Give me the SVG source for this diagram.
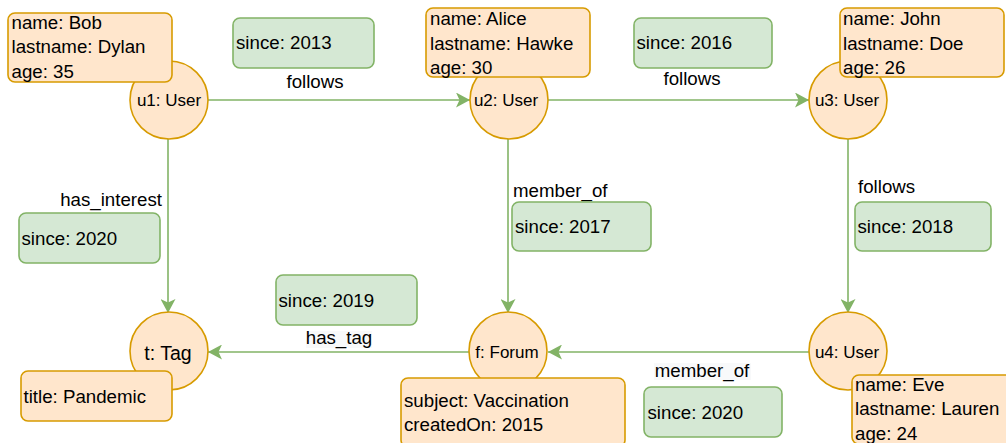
<svg xmlns="http://www.w3.org/2000/svg" width="1006" height="443" viewBox="0 0 1006 443">
  <style>
    text { font-family: "Liberation Sans", Arial, Helvetica, sans-serif; fill: #000; }
    .n { fill: #ffe6cc; stroke: #d79b00; stroke-width: 1.6; }
    .g { fill: #d5e8d4; stroke: #82b366; stroke-width: 1.6; }
    .e { fill: none; stroke: #82b366; stroke-width: 1.6; marker-end: url(#arr); }
    .p { font-size: 18.7px; }
    .el { font-size: 18.7px; }
    .c { text-anchor: middle; }
    .lab { font-size: 17px; text-anchor: middle; }
    .lbg { fill: #f8f9fa; stroke: none; }
  </style>
  <defs>
    <marker id="arr" viewBox="0 0 14 15" refX="14" refY="7.5" markerWidth="14" markerHeight="15" markerUnits="userSpaceOnUse" orient="auto">
      <path d="M0,0 L14,7.5 L0,15 L3.5,7.5 Z" fill="#82b366"/>
    </marker>
  </defs>

  <rect width="1006" height="443" fill="#ffffff"/>

  <g id="connectors">
    <g id="e-u1-u2">
      <line class="e" x1="208" y1="100" x2="470" y2="100"/>
      <text class="el c" x="315" y="88">follows</text>
    </g>
    <g id="e-u2-u3">
      <line class="e" x1="548" y1="100" x2="809" y2="100"/>
      <text class="el c" x="692" y="85">follows</text>
    </g>
    <g id="e-u1-t">
      <line class="e" x1="168" y1="139" x2="168" y2="313"/>
      <text class="el" x="162" y="206" text-anchor="end">has_interest</text>
    </g>
    <g id="e-u2-f">
      <line class="e" x1="508" y1="139" x2="508" y2="313"/>
      <text class="el" x="513" y="197">member_of</text>
    </g>
    <g id="e-u3-u4">
      <line class="e" x1="848" y1="139" x2="848" y2="313"/>
      <text class="el" x="858" y="193">follows</text>
    </g>
    <g id="e-f-t">
      <line class="e" x1="469" y1="352" x2="208" y2="352"/>
      <rect class="lbg" x="306" y="331" width="66" height="17"/>
      <text class="el c" x="339" y="344">has_tag</text>
    </g>
    <g id="e-u4-f">
      <line class="e" x1="809" y1="352" x2="548" y2="352"/>
      <rect class="lbg" x="654" y="363" width="97" height="17"/>
      <text class="el c" x="702" y="377">member_of</text>
    </g>
  </g>

  <g id="rel-props">
    <g id="since-2013">
      <rect class="g" x="233" y="18" width="141" height="50" rx="7"/>
      <text class="p" x="236" y="49">since: 2013</text>
    </g>
    <g id="since-2016">
      <rect class="g" x="634" y="18" width="138" height="50" rx="7"/>
      <text class="p" x="636.5" y="49">since: 2016</text>
    </g>
    <g id="since-2020-a">
      <rect class="g" x="19" y="213" width="141" height="50" rx="7"/>
      <text class="p" x="21.5" y="245">since: 2020</text>
    </g>
    <g id="since-2017">
      <rect class="g" x="512" y="202" width="139" height="49" rx="7"/>
      <text class="p" x="515" y="233">since: 2017</text>
    </g>
    <g id="since-2018">
      <rect class="g" x="855" y="202" width="136" height="49" rx="7"/>
      <text class="p" x="857.5" y="233">since: 2018</text>
    </g>
    <g id="since-2019">
      <rect class="g" x="276" y="275" width="141" height="50" rx="7"/>
      <text class="p" x="278.5" y="306.5">since: 2019</text>
    </g>
    <g id="since-2020-b">
      <rect class="g" x="644" y="387" width="138" height="50" rx="7"/>
      <text class="p" x="647.5" y="418.5">since: 2020</text>
    </g>
  </g>

  <g id="u1">
    <circle class="n" cx="169" cy="100" r="39"/>
    <text class="lab" x="169" y="106">u1: User</text>
    <rect class="n" x="8" y="13" width="164" height="69" rx="7"/>
    <text class="p" x="11.5" y="28.5">name: Bob</text>
    <text class="p" x="11.5" y="53">lastname: Dylan</text>
    <text class="p" x="11.5" y="77.5">age: 35</text>
  </g>

  <g id="u2">
    <circle class="n" cx="509" cy="100" r="39"/>
    <text class="lab" x="506" y="106">u2: User</text>
    <rect class="n" x="426" y="8" width="164" height="69" rx="7"/>
    <text class="p" x="430" y="25">name: Alice</text>
    <text class="p" x="430" y="49.5">lastname: Hawke</text>
    <text class="p" x="430" y="74">age: 30</text>
  </g>

  <g id="u3">
    <circle class="n" cx="848" cy="100" r="39"/>
    <text class="lab" x="847" y="106">u3: User</text>
    <rect class="n" x="840" y="8" width="164" height="69" rx="7"/>
    <text class="p" x="843" y="25">name: John</text>
    <text class="p" x="843" y="49.5">lastname: Doe</text>
    <text class="p" x="843" y="74">age: 26</text>
  </g>

  <g id="t">
    <circle class="n" cx="169" cy="351" r="39"/>
    <text x="168" y="360" style="font-size:19.5px;text-anchor:middle">t: Tag</text>
    <rect class="n" x="21" y="371" width="151" height="50" rx="7"/>
    <text class="p" x="23.5" y="402.5">title: Pandemic</text>
  </g>

  <g id="f">
    <circle class="n" cx="508" cy="351" r="39"/>
    <text class="lab" x="507" y="358">f: Forum</text>
    <rect class="n" x="401" y="378" width="224" height="69" rx="7"/>
    <text class="p" x="404" y="406.5">subject: Vaccination</text>
    <text class="p" x="404" y="431">createdOn: 2015</text>
  </g>

  <g id="u4">
    <circle class="n" cx="848" cy="351" r="39"/>
    <text class="lab" x="847" y="358">u4: User</text>
    <rect class="n" x="852" y="375" width="164" height="69" rx="7"/>
    <text class="p" x="855" y="391">name: Eve</text>
    <text class="p" x="855" y="415">lastname: Lauren</text>
    <text class="p" x="855" y="440">age: 24</text>
  </g>
</svg>
